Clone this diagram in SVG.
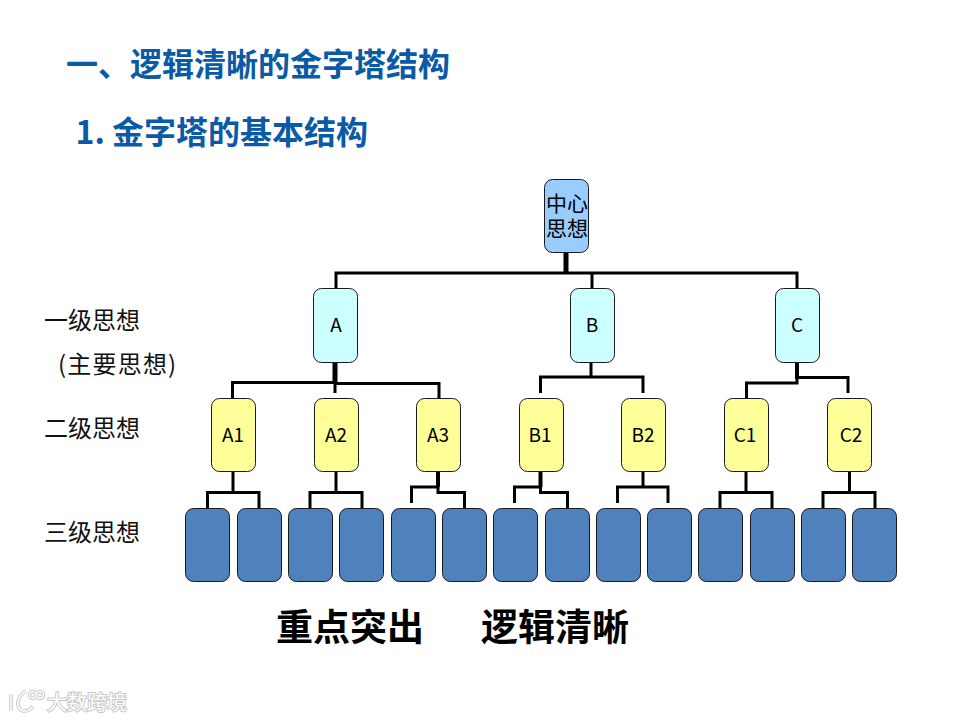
<svg xmlns="http://www.w3.org/2000/svg" width="960" height="720" viewBox="0 0 960 720">
<style>
text{font-family:"Noto Sans CJK SC","Noto Sans",sans-serif}
.n rect{stroke:#1a1a1a;stroke-width:1}
.root rect{fill:#99ccff}
.l1 rect{fill:#ccffff}
.l2 rect{fill:#ffff99}
.l3 rect{fill:#4f81bd}
.lb{font-size:19px;text-anchor:middle;fill:#000}
.t{font-size:32px;font-weight:700;fill:#0b5aa6}
.s{font-size:24px;fill:#111}
.b{font-size:37px;font-weight:700;fill:#000}
#connectors path{fill:none;stroke:#000;stroke-width:3}
.wm{fill:none;stroke:#c8c8c8;stroke-width:3.500}
.wm2{fill:none;stroke:#fff;stroke-width:1.500}
</style>
<rect width="960" height="720" fill="#fff"/>
<text id="title1" class="t" x="66" y="76">一、逻辑清晰的金字塔结构</text>
<text id="title2" class="t" x="75.500" y="144">1. 金字塔的基本结构</text>
<text class="s" x="44" y="329">一级思想</text>
<text class="s" x="58" y="373" style="letter-spacing:1.200px">(主要思想)</text>
<text class="s" x="44" y="437">二级思想</text>
<text class="s" x="44" y="541">三级思想</text>
<text class="b" x="276" y="641">重点突出</text>
<text class="b" x="481" y="641">逻辑清晰</text>
<g id="connectors">
<path d="M566 252V273" style="stroke-width:5"/>
<path d="M336 288V273H797V288M592 273V288"/>
<path d="M335 362V384" style="stroke-width:5"/>
<path d="M335 382.500H232.500V398M335 383.500H439V398M335 383V393"/>
<path d="M591 362V377M540.500 393V377H643V393"/>
<path d="M797 362V379" style="stroke-width:4"/>
<path d="M797 378V383H746.500V398M797 377.500H848V393"/>
<path d="M233 471V492.500M207.500 508V492.500H259V508"/>
<path d="M336 471V492.500M310 508V492.500H362V508"/>
<path d="M438 471V487" style="stroke-width:4"/>
<path d="M411.500 503V487H438V492.500H464.500V508"/>
<path d="M540.500 471V487" style="stroke-width:4"/>
<path d="M514.500 503V487H540.500V492.500H567.500V508"/>
<path d="M643 471V487M617.500 503V487H668V503"/>
<path d="M746 471V492.500M720 508V492.500H772V508"/>
<path d="M849.500 471V492.500M823 508V492.500H875V508"/>
</g>
<g id="root" class="n root"><rect x="544.500" y="179.500" width="44" height="73" rx="8"/><text class="lb" style="font-size:21px"><tspan x="567" y="211">中心</tspan><tspan x="567" y="236">思想</tspan></text></g>
<g id="A" class="n l1"><rect x="313.500" y="288.500" width="44" height="74" rx="8"/><text class="lb" x="336" y="332">A</text></g>
<g id="B" class="n l1"><rect x="570.500" y="288.500" width="44" height="74" rx="8"/><text class="lb" x="592" y="332">B</text></g>
<g id="C" class="n l1"><rect x="775.500" y="288.500" width="44" height="74" rx="8"/><text class="lb" x="797" y="332">C</text></g>
<g id="A1" class="n l2"><rect x="211.500" y="398.500" width="44" height="73" rx="8"/><text class="lb" x="233" y="442">A1</text></g>
<g id="A2" class="n l2"><rect x="314.500" y="398.500" width="44" height="73" rx="8"/><text class="lb" x="336" y="442">A2</text></g>
<g id="A3" class="n l2"><rect x="416.500" y="398.500" width="44" height="73" rx="8"/><text class="lb" x="438" y="442">A3</text></g>
<g id="B1" class="n l2"><rect x="519.500" y="398.500" width="44" height="73" rx="8"/><text class="lb" x="540" y="442">B1</text></g>
<g id="B2" class="n l2"><rect x="621.500" y="398.500" width="44" height="73" rx="8"/><text class="lb" x="643" y="442">B2</text></g>
<g id="C1" class="n l2"><rect x="724.500" y="398.500" width="44" height="73" rx="8"/><text class="lb" x="745" y="442">C1</text></g>
<g id="C2" class="n l2"><rect x="827.500" y="398.500" width="44" height="73" rx="8"/><text class="lb" x="851" y="442">C2</text></g>
<g class="n l3">
<rect id="a11" x="185.500" y="508.500" width="44" height="73" rx="8"/>
<rect id="a12" x="237.500" y="508.500" width="44" height="73" rx="8"/>
<rect id="a21" x="288.500" y="508.500" width="44" height="73" rx="8"/>
<rect id="a22" x="339.500" y="508.500" width="44" height="73" rx="8"/>
<rect id="a31" x="391.500" y="508.500" width="44" height="73" rx="8"/>
<rect id="a32" x="442.500" y="508.500" width="44" height="73" rx="8"/>
<rect id="b11" x="493.500" y="508.500" width="44" height="73" rx="8"/>
<rect id="b12" x="545.500" y="508.500" width="44" height="73" rx="8"/>
<rect id="b21" x="596.500" y="508.500" width="44" height="73" rx="8"/>
<rect id="b22" x="647.500" y="508.500" width="44" height="73" rx="8"/>
<rect id="c11" x="698.500" y="508.500" width="44" height="73" rx="8"/>
<rect id="c12" x="750.500" y="508.500" width="44" height="73" rx="8"/>
<rect id="c21" x="801.500" y="508.500" width="44" height="73" rx="8"/>
<rect id="c22" x="852.500" y="508.500" width="44" height="73" rx="8"/>
</g>
<g id="watermark">
<path class="wm" d="M11 694V711M26 691C15 697 16 711 24 711C28 711 31 709 33 706"/>
<circle class="wm" cx="33" cy="695" r="3.500"/><circle class="wm" cx="40" cy="695" r="3.500"/>
<path class="wm2" d="M11 694V711M26 691C15 697 16 711 24 711C28 711 31 709 33 706"/>
<circle class="wm2" cx="33" cy="695" r="3.500"/><circle class="wm2" cx="40" cy="695" r="3.500"/>
<text x="47" y="710" style="font-size:20px;fill:#fff;stroke:#c8c8c8;stroke-width:2;paint-order:stroke">大数跨境</text>
</g>
</svg>
